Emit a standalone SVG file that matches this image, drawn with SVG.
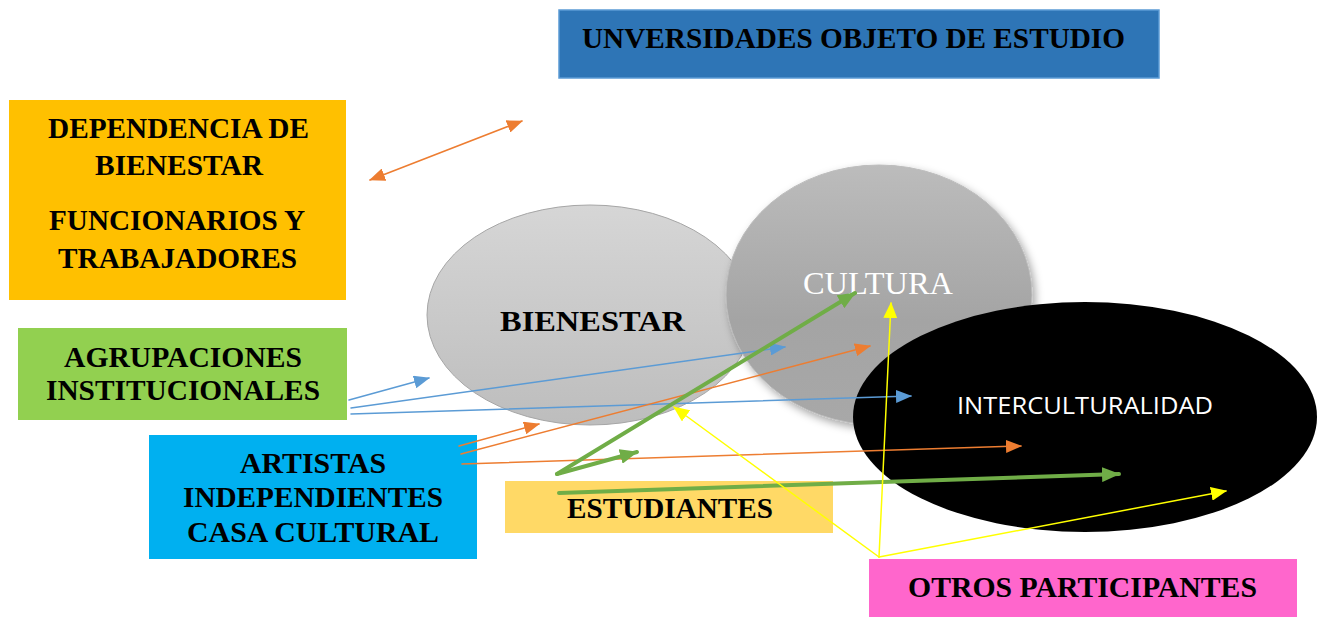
<svg xmlns="http://www.w3.org/2000/svg" width="1326" height="617" viewBox="0 0 1326 617">
<style>
.t{font-family:"Liberation Serif","Times New Roman",serif;font-weight:bold;fill:#000;font-size:30px;}
.c{stroke-linecap:round;fill:none;}
.b{stroke:#5B9BD5;stroke-width:1.5;marker-end:url(#mb);}
.o{stroke:#ED7D31;stroke-width:1.5;marker-end:url(#mo);}
.g{stroke:#70AD47;stroke-width:4;marker-end:url(#mg);}
.y{stroke:#FFFF00;stroke-width:1.5;marker-end:url(#my);}
</style>
<defs>
<linearGradient id="gb" x1="0" y1="0" x2="0" y2="1">
<stop offset="0" stop-color="#d6d6d6"/><stop offset="1" stop-color="#bdbdbd"/>
</linearGradient>
<linearGradient id="gc" x1="0" y1="0" x2="0" y2="1">
<stop offset="0" stop-color="#bcbcbc"/><stop offset="0.6" stop-color="#a4a4a4"/><stop offset="1" stop-color="#a8a8a8"/>
</linearGradient>
<filter id="sh" x="-20%" y="-20%" width="140%" height="140%">
<feDropShadow dx="3" dy="4" stdDeviation="4" flood-color="#000" flood-opacity="0.35"/>
</filter>
<marker id="mb" markerUnits="userSpaceOnUse" viewBox="0 0 16 13" markerWidth="16" markerHeight="13" refX="15" refY="6.5" orient="auto"><path d="M0,0 L16,6.5 L0,13 z" fill="#5B9BD5"/></marker>
<marker id="mo" markerUnits="userSpaceOnUse" viewBox="0 0 16 13" markerWidth="16" markerHeight="13" refX="15" refY="6.5" orient="auto-start-reverse"><path d="M0,0 L16,6.5 L0,13 z" fill="#ED7D31"/></marker>
<marker id="mg" markerUnits="userSpaceOnUse" viewBox="0 0 18 15" markerWidth="18" markerHeight="15" refX="17" refY="7.5" orient="auto"><path d="M0,0 L18,7.5 L0,15 z" fill="#70AD47"/></marker>
<marker id="my" markerUnits="userSpaceOnUse" viewBox="0 0 16 14" markerWidth="16" markerHeight="14" refX="15" refY="7" orient="auto"><path d="M0,0 L16,7 L0,14 z" fill="#FFFF00"/></marker>
</defs>
<rect width="1326" height="617" fill="#fff"/>

<g id="universidades">
<rect x="559" y="10" width="600" height="68" fill="#2E75B6" stroke="#5B9BD5" stroke-width="1.5"/>
<text class="t" x="582" y="48" textLength="543" lengthAdjust="spacingAndGlyphs">UNVERSIDADES OBJETO DE ESTUDIO</text>
</g>

<g id="dependencia">
<rect x="9" y="100" width="337" height="200" fill="#FFC000"/>
<text class="t" x="48" y="138" textLength="261" lengthAdjust="spacingAndGlyphs">DEPENDENCIA DE</text>
<text class="t" x="95" y="175" textLength="168" lengthAdjust="spacingAndGlyphs">BIENESTAR</text>
<text class="t" x="49" y="230" textLength="256" lengthAdjust="spacingAndGlyphs">FUNCIONARIOS Y</text>
<text class="t" x="58" y="268" textLength="239" lengthAdjust="spacingAndGlyphs">TRABAJADORES</text>
</g>

<g id="agrupaciones">
<rect x="18" y="328" width="329" height="92" fill="#92D050"/>
<text class="t" x="64" y="367" textLength="238" lengthAdjust="spacingAndGlyphs">AGRUPACIONES</text>
<text class="t" x="46" y="400" textLength="274" lengthAdjust="spacingAndGlyphs">INSTITUCIONALES</text>
</g>

<g id="artistas">
<rect x="149" y="435" width="328" height="124" fill="#00B0F0"/>
<text class="t" x="240" y="473" textLength="146" lengthAdjust="spacingAndGlyphs">ARTISTAS</text>
<text class="t" x="183" y="507" textLength="260" lengthAdjust="spacingAndGlyphs">INDEPENDIENTES</text>
<text class="t" x="187" y="542" textLength="252" lengthAdjust="spacingAndGlyphs">CASA CULTURAL</text>
</g>

<g id="estudiantes">
<rect x="505" y="481" width="328" height="52" fill="#FFD966"/>
<text class="t" x="567" y="518" textLength="206" lengthAdjust="spacingAndGlyphs">ESTUDIANTES</text>
</g>

<g id="otros">
<rect x="869" y="559" width="428" height="58" fill="#FF66CC"/>
<text class="t" x="908" y="597" textLength="349" lengthAdjust="spacingAndGlyphs">OTROS PARTICIPANTES</text>
</g>

<g id="bienestar">
<ellipse cx="590" cy="315" rx="163" ry="110" fill="url(#gb)" stroke="#a6a6a6" stroke-width="1"/>
<text class="t" x="500" y="331" textLength="185" lengthAdjust="spacingAndGlyphs">BIENESTAR</text>
</g>

<g id="cultura">
<ellipse cx="879" cy="295" rx="153" ry="130" fill="url(#gc)" stroke="#bdbdbd" stroke-width="1" filter="url(#sh)"/>
<text x="803" y="294" font-family="Liberation Serif, Times New Roman, serif" font-size="32" fill="#fff" textLength="150" lengthAdjust="spacingAndGlyphs">CULTURA</text>
</g>

<g id="interculturalidad">
<ellipse cx="1085" cy="417" rx="232" ry="115" fill="#000"/>
<text x="957" y="414" font-family="Open Sans, Liberation Sans, sans-serif" font-size="24" fill="#fff" textLength="256" lengthAdjust="spacingAndGlyphs">INTERCULTURALIDAD</text>
</g>

<g id="connectors" class="c">
<line class="c b" x1="349" y1="400" x2="429" y2="378"/>
<line class="c b" x1="351" y1="408" x2="785" y2="347"/>
<line class="c b" x1="351" y1="414" x2="911" y2="396"/>
<line class="c o" x1="370" y1="180" x2="522" y2="121" marker-start="url(#mo)"/>
<line class="c o" x1="459" y1="446" x2="539" y2="424"/>
<line class="c o" x1="461" y1="454" x2="870" y2="346"/>
<line class="c o" x1="462" y1="464" x2="1021" y2="446"/>
<line class="c g" x1="557" y1="474" x2="855" y2="293"/>
<line class="c g" x1="557" y1="474" x2="637" y2="452"/>
<line class="c g" x1="559" y1="493" x2="1119" y2="474"/>
<line class="c y" x1="879" y1="557" x2="891" y2="303"/>
<line class="c y" x1="879" y1="557" x2="674" y2="407"/>
<line class="c y" x1="879" y1="557" x2="1226" y2="491"/>
</g>
</svg>
